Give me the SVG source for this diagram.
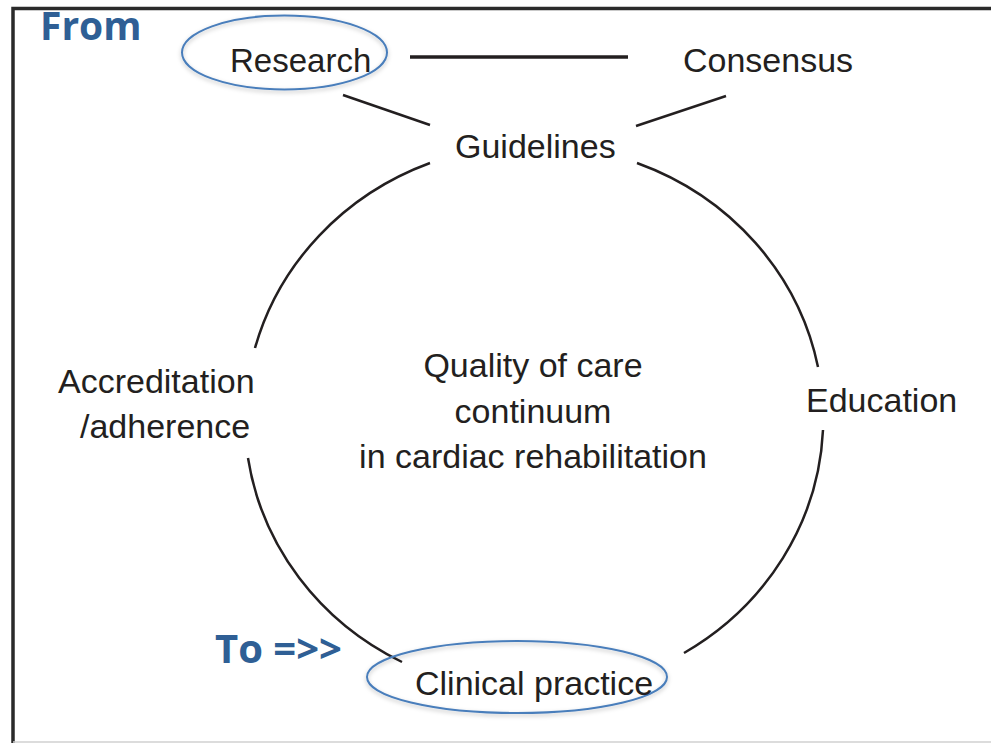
<svg xmlns="http://www.w3.org/2000/svg" width="991" height="743" viewBox="0 0 991 743">
  <style>
    .lbl { font-family: "Liberation Sans", Arial, sans-serif; font-size: 34px; fill: #231f20; }
    .mid { text-anchor: middle; }
    .tag { font-family: "Open Sans", "Liberation Sans", sans-serif; font-weight: 700; fill: #2f5f95; }
    .ln { stroke: #231f20; stroke-width: 2.5; fill: none; stroke-linecap: butt; }
    .mark { fill: none; stroke: #4a7ebb; stroke-width: 2; filter: url(#soft); }
  </style>
  <defs>
    <filter id="soft" x="-10%" y="-30%" width="120%" height="160%">
      <feDropShadow dx="0" dy="2" stdDeviation="2" flood-color="#000" flood-opacity="0.25"/>
    </filter>
  </defs>

  <rect width="991" height="743" fill="#ffffff"/>

  <!-- frame -->
  <g id="frame">
    <path d="M13 743 V8.5 H991" fill="none" stroke="#2a2a2a" stroke-width="3.5"/>
    <line x1="13" y1="742" x2="991" y2="742" stroke="#d0d0d0" stroke-width="1.5"/>
  </g>

  <!-- connectors -->
  <g id="connectors">
    <line class="ln" x1="410" y1="57" x2="628" y2="57" style="stroke-width:3.5"/>
    <line class="ln" x1="343" y1="95" x2="430" y2="125"/>
    <line class="ln" x1="636" y1="126" x2="726" y2="96"/>
    <path class="ln" d="M255 348 A289 275 0 0 1 430 163"/>
    <path class="ln" d="M637 163 A289 275 0 0 1 818 367"/>
    <path class="ln" d="M823 430 A289 275 0 0 1 684 653"/>
    <path class="ln" d="M402 662 A289 275 0 0 1 248 458"/>
  </g>

  <g id="research">
    <ellipse class="mark" cx="284.5" cy="52.5" rx="102.5" ry="37"/>
    <text class="lbl" x="230" y="72" style="font-size:33px">Research</text>
  </g>

  <g id="consensus">
    <text class="lbl" x="683" y="72">Consensus</text>
  </g>

  <g id="guidelines">
    <text class="lbl" x="455" y="158">Guidelines</text>
  </g>

  <g id="education">
    <text class="lbl" x="806" y="412">Education</text>
  </g>

  <g id="accreditation">
    <text class="lbl" x="58" y="393">Accreditation</text>
    <text class="lbl" x="80" y="438">/adherence</text>
  </g>

  <g id="clinical-practice">
    <ellipse class="mark" cx="517" cy="677" rx="150" ry="36"/>
    <text class="lbl" x="415" y="695">Clinical practice</text>
  </g>

  <g id="centre">
    <text class="lbl mid" x="533" y="377">Quality of care</text>
    <text class="lbl mid" x="533" y="423">continuum</text>
    <text class="lbl mid" x="533" y="468">in cardiac rehabilitation</text>
  </g>

  <g id="from">
    <text class="tag" x="40" y="40" style="font-size:39px">From</text>
  </g>

  <g id="to">
    <text class="tag" x="215" y="663" style="font-size:40px">To =&gt;&gt;</text>
  </g>
</svg>
